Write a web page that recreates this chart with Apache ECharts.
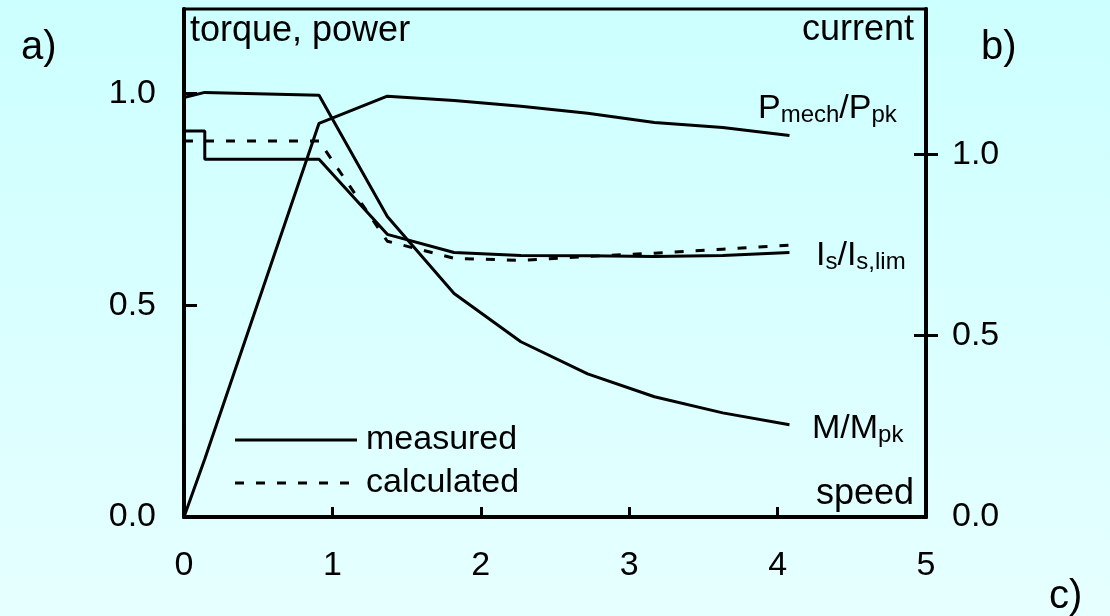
<!DOCTYPE html>
<html>
<head>
<meta charset="utf-8">
<script src="https://cdn.jsdelivr.net/npm/echarts@6/dist/echarts.min.js"></script>
<style>
  html, body { margin: 0; padding: 0; }
  #chart { width: 1110px; height: 616px; }
</style>
</head>
<body>
<div id="chart"></div>
<script>
// speed axis positions of the measured points
const speedMeas = [0, 0.14, 0.91, 1.37, 1.82, 2.27, 2.72, 3.17, 3.63, 4.08];
const powerMeas = [0, 0.137, 0.930, 0.994, 0.984, 0.970, 0.954, 0.932, 0.920, 0.901];
const torqueMeas = [0.991, 1.003, 0.996, 0.710, 0.528, 0.414, 0.338, 0.284, 0.246, 0.218];
// current has a step at the start
const currentSpeed = [0, 0.14, 0.14, 0.91, 1.37, 1.82, 2.27, 2.72, 3.17, 3.63, 4.08];
const currentMeas = [1.064, 1.064, 0.986, 0.986, 0.779, 0.729, 0.721, 0.720, 0.718, 0.721, 0.729];
const calcSpeed = [0, 0.91, 1.37, 1.82, 2.27, 2.72, 3.17, 3.63, 4.08];
const currentCalc = [1.036, 1.036, 0.760, 0.713, 0.707, 0.718, 0.727, 0.738, 0.749];

const xTicks = [1, 2, 3, 4];
const leftLabels = [0, 0.5, 1.0];
const rightLabels = [0, 0.5, 1.0];

const FONT = "'Liberation Sans', Arial, sans-serif";
const pair = (xs, ys) => xs.map((x, i) => [x, ys[i]]);

const chart = echarts.init(document.getElementById("chart"));

const solid = { color: "#000", width: 3, type: "solid" };
const dashed = { color: "#000", width: 3, type: [9, 12] };

const richLabel = {
  b: { fontSize: 34, fontFamily: FONT, color: "#000", lineHeight: 36 },
  s: { fontSize: 24, fontFamily: FONT, color: "#000", lineHeight: 23, verticalAlign: "bottom" }
};

function txt(x, y, text, size, align) {
  return {
    type: "text", x: x, y: y, silent: true,
    style: {
      text: text, font: size + "px " + FONT, fill: "#000",
      textAlign: align || "left", align: align || "left",
      textVerticalAlign: "middle", verticalAlign: "middle"
    }
  };
}
function richTxt(x, y, text) {
  return {
    type: "text", x: x, y: y, silent: true,
    style: { text: text, rich: richLabel, fill: "#000", verticalAlign: "middle", textVerticalAlign: "middle" }
  };
}

const option = {
  backgroundColor: new echarts.graphic.LinearGradient(0, 0, 0, 1, [
    { offset: 0, color: "#ccffff" },
    { offset: 1, color: "#e6ffff" }
  ]),
  animation: false,
  grid: {
    left: 184, right: 184, top: 9, bottom: 99,
    show: true, borderColor: "#000", borderWidth: 3, backgroundColor: "transparent"
  },
  xAxis: {
    type: "value", min: 0, max: 5, interval: 1,
    axisLine: { lineStyle: { color: "#000", width: 4 } },
    axisTick: { inside: true, length: 10, lineStyle: { width: 3, color: "#000" }, customValues: xTicks },
    axisLabel: { color: "#000", fontSize: 34, fontFamily: FONT, margin: 32 },
    splitLine: { show: false }
  },
  yAxis: [
    {
      type: "value", min: 0, max: 1.2, interval: 0.5, position: "left",
      axisLine: { show: true, lineStyle: { color: "#000", width: 4 } },
      axisTick: { inside: true, length: 13, lineStyle: { width: 3, color: "#000" }, customValues: [0.5, 1.0] },
      axisLabel: {
        color: "#000", fontSize: 34, fontFamily: FONT, margin: 28,
        customValues: leftLabels, formatter: v => v.toFixed(1)
      },
      splitLine: { show: false }
    },
    {
      type: "value", min: 0, max: 1.4, interval: 0.5, position: "right",
      axisLine: { show: true, lineStyle: { color: "#000", width: 4 } },
      axisTick: { inside: false, length: 12, lineStyle: { width: 3, color: "#000" }, customValues: [0.5, 1.0] },
      axisLabel: {
        color: "#000", fontSize: 34, fontFamily: FONT, margin: 26,
        customValues: rightLabels, formatter: v => v.toFixed(1)
      },
      splitLine: { show: false }
    },
    {
      // inner half of the crossing ticks on the current axis
      type: "value", min: 0, max: 1.4, interval: 0.5, position: "right",
      axisLine: { show: false },
      axisTick: { inside: true, length: 12, lineStyle: { width: 3, color: "#000" }, customValues: [0.5, 1.0] },
      axisLabel: { show: false },
      splitLine: { show: false }
    }
  ],
  series: [
    { name: "P_mech", type: "line", yAxisIndex: 0, data: pair(speedMeas, powerMeas), symbol: "none", lineStyle: solid },
    { name: "M", type: "line", yAxisIndex: 0, data: pair(speedMeas, torqueMeas), symbol: "none", lineStyle: solid },
    { name: "I_s measured", type: "line", yAxisIndex: 1, data: pair(currentSpeed, currentMeas), symbol: "none", lineStyle: solid },
    { name: "I_s calculated", type: "line", yAxisIndex: 1, data: pair(calcSpeed, currentCalc), symbol: "none", lineStyle: dashed }
  ],
  graphic: [
    txt(21, 48, "a)", 40),
    txt(981, 48, "b)", 40),
    txt(1049, 597, "c)", 40),
    txt(190, 31, "torque, power", 36),
    txt(914, 30, "current", 36, "right"),
    txt(914, 494, "speed", 36, "right"),
    richTxt(758, 109, "{b|P}{s|mech}{b|/P}{s|pk}"),
    richTxt(816, 256, "{b|I}{s|s}{b|/I}{s|s,lim}"),
    richTxt(812, 429, "{b|M/M}{s|pk}"),
    // legend
    { type: "line", silent: true, shape: { x1: 235, y1: 440, x2: 357, y2: 440 }, style: { stroke: "#000", lineWidth: 3 } },
    { type: "line", silent: true, shape: { x1: 235, y1: 483, x2: 357, y2: 483 }, style: { stroke: "#000", lineWidth: 3, lineDash: [9, 12] } },
    txt(366, 440, "measured", 34),
    txt(366, 483, "calculated", 34)
  ]
};

chart.setOption(option);
</script>
</body>
</html>
